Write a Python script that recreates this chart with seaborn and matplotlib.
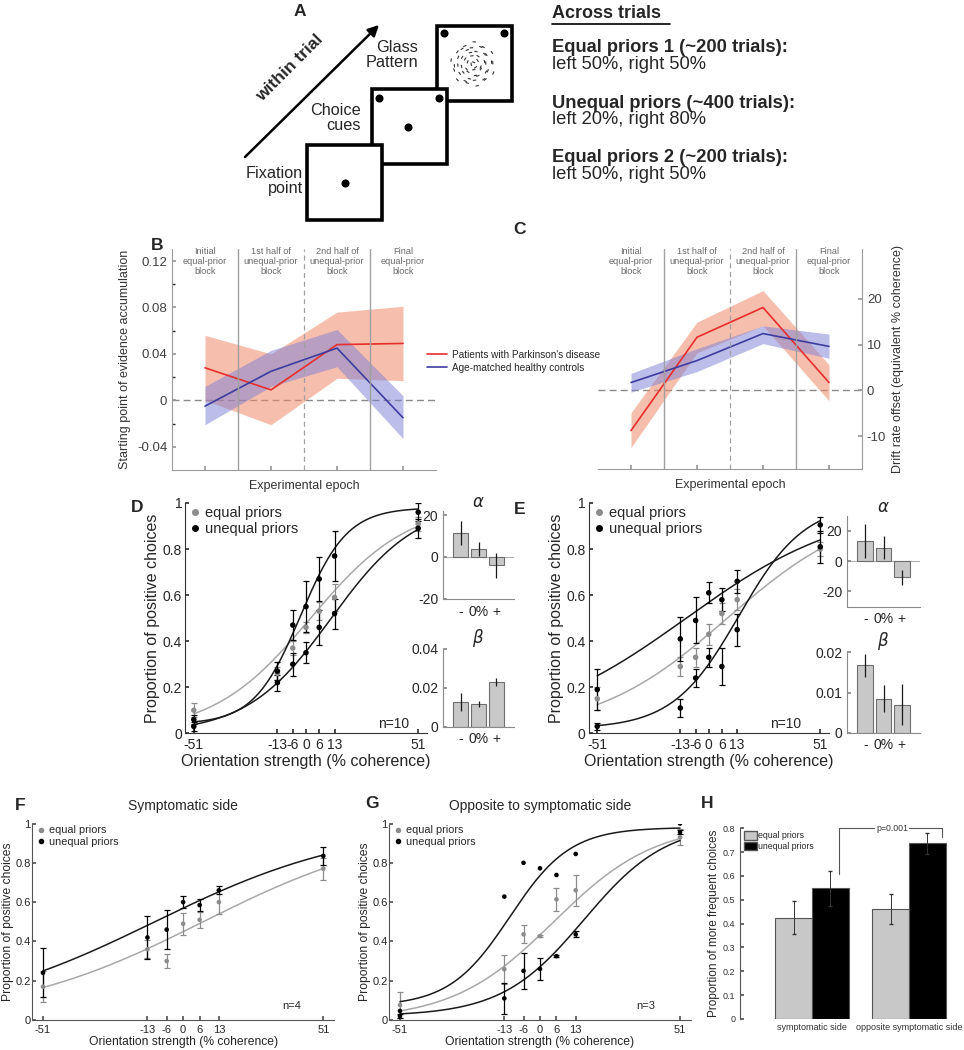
import numpy as np
import pandas as pd
import matplotlib
matplotlib.use('Agg')
import matplotlib.pyplot as plt
from matplotlib.lines import Line2D
from matplotlib.patches import Patch, Rectangle
import seaborn as sns

# ---------------- data ----------------
coherence = [-51, -13, -6, 0, 6, 13, 51]
coh_labels = ['-51', '-13', '-6', '0', '6', '13', '51']
epochs = [1, 3, 5, 7]
epoch_labels = ['Initial\nequal-prior\nblock', '1st half of\nunequal-prior\nblock',
                '2nd half of\nunequal-prior\nblock', 'Final\nequal-prior\nblock']
group_names = ['Patients with Parkinson\'s disease', 'Age-matched healthy controls']

# B: starting point of evidence accumulation
pd_start = [0.028, 0.009, 0.048, 0.049]
pd_start_lo = [0.0, -0.021, 0.019, 0.017]
pd_start_hi = [0.056, 0.040, 0.076, 0.081]
hc_start = [-0.005, 0.025, 0.045, -0.015]
hc_start_lo = [-0.021, 0.012, 0.029, -0.033]
hc_start_hi = [0.012, 0.043, 0.061, 0.004]

# C: drift rate offset
pd_drift = [-8.8, 11.6, 18.1, 1.7]
pd_drift_lo = [-12.5, 8.2, 14.1, -2.3]
pd_drift_hi = [-4.9, 14.9, 21.8, 5.6]
hc_drift = [1.7, 6.5, 12.4, 9.6]
hc_drift_lo = [-0.4, 4.1, 10.2, 7.0]
hc_drift_hi = [3.7, 9.1, 14.1, 12.3]

# D: proportion of positive choices (patients, n=10)
d_equal = [0.10, 0.26, 0.37, 0.46, 0.53, 0.59, 0.91]
d_equal_err = [0.03, 0.03, 0.03, 0.025, 0.04, 0.06, 0.03]
d_unequal_a = [0.06, 0.27, 0.47, 0.55, 0.67, 0.77, 0.96]
d_unequal_a_err = [0.02, 0.04, 0.065, 0.11, 0.095, 0.11, 0.04]
d_unequal_b = [0.03, 0.22, 0.30, 0.35, 0.46, 0.52, 0.89]
d_unequal_b_err = [0.02, 0.035, 0.05, 0.045, 0.075, 0.065, 0.04]
# logistic fits: (midpoint, spread, floor, lapse)
d_fit_equal = (2.1, 22.3, 0.0, 0.0)
d_fit_unequal_a = (-2.5, 10.6, 0.04, 0.02)
d_fit_unequal_b = (11.5, 19.3, 0.0, 0.0)

# E: proportion of positive choices (controls, n=10)
e_equal = [0.15, 0.29, 0.33, 0.43, 0.52, 0.58, 0.80]
e_equal_err = [0.05, 0.04, 0.04, 0.045, 0.045, 0.045, 0.03]
e_unequal_a = [0.19, 0.41, 0.49, 0.61, 0.58, 0.66, 0.81]
e_unequal_a_err = [0.09, 0.095, 0.10, 0.045, 0.05, 0.05, 0.07]
e_unequal_b = [0.03, 0.11, 0.24, 0.33, 0.29, 0.45, 0.905]
e_unequal_b_err = [0.015, 0.04, 0.04, 0.04, 0.08, 0.07, 0.035]
e_fit_equal = (8.5, 30.5, 0.0, 0.0)
e_fit_unequal_a = (-10.3, 37.0, 0.0, 0.0)
e_fit_unequal_b = (13.8, 15.1, 0.02, 0.0)

# insets: alpha and beta for -, 0%, + blocks
bar_labels = ['-', '0%', '+']
d_alpha = [11.5, 3.8, -4.0]
d_alpha_err = [5.6, 3.5, 6.0]
d_beta = [0.0127, 0.0115, 0.023]
d_beta_err = [0.0045, 0.0015, 0.002]
e_alpha = [13.1, 8.9, -10.7]
e_alpha_err = [11.1, 7.7, 5.0]
e_beta = [0.0168, 0.0085, 0.007]
e_beta_err = [0.0029, 0.0034, 0.005]

# F: symptomatic side (n=4)
f_equal = [0.17, 0.36, 0.30, 0.49, 0.51, 0.60, 0.77]
f_equal_err = [0.08, 0.045, 0.035, 0.055, 0.04, 0.06, 0.055]
f_unequal = [0.24, 0.42, 0.46, 0.60, 0.585, 0.66, 0.835]
f_unequal_err = [0.125, 0.11, 0.10, 0.03, 0.03, 0.02, 0.045]
f_fit_equal = (7.3, 36.0, 0.0, 0.0)
f_fit_unequal = (-10.3, 37.0, 0.0, 0.0)

# G: opposite to symptomatic side (n=3)
g_equal = [0.076, 0.258, 0.436, 0.427, 0.614, 0.66, 0.93]
g_equal_err = [0.065, 0.075, 0.045, 0.005, 0.06, 0.078, 0.04]
g_unequal_a = [0.046, 0.628, 0.80, 0.772, 0.738, 0.845, 1.0]
g_unequal_b = [0.02, 0.11, 0.25, 0.26, 0.325, 0.436, 0.955]
g_unequal_b_err = [0.01, 0.08, 0.09, 0.055, 0.006, 0.016, 0.01]
g_fit_equal = (5.0, 18.5, 0.0, 0.0)
g_fit_unequal_a = (-11.0, 11.0, 0.07, 0.02)
g_fit_unequal_b = (16.0, 15.0, 0.02, 0.0)

# H: proportion of more frequent choices
sides = ['symptomatic side', 'opposite symptomatic side']
h_equal = [0.425, 0.462]
h_equal_err = [0.07, 0.064]
h_unequal = [0.548, 0.737]
h_unequal_err = [0.072, 0.045]

# ---------------- style ----------------
sns.set_theme(style='ticks')
plt.rcParams['font.family'] = ['Liberation Sans', 'DejaVu Sans']
plt.rcParams.update({
    'xtick.direction': 'in', 'ytick.direction': 'in',
    'xtick.major.size': 3, 'ytick.major.size': 3,
    'xtick.minor.size': 2, 'ytick.minor.size': 2,
    'axes.linewidth': 0.8,
})

W, H = 964, 1050
RED, BLUE = '#e62e2e', '#3d3d9e'
PINK, LAV = '#f08a6a', '#7b7fd4'
GRAY, GRAY_LINE = '#8c8c8c', '#a8a8a8'
BAR, BAR_EDGE = '#c8c8c8', '#6e6e6e'


def rect(l, t, r, b):
    # pixel box -> figure fraction
    return [l / W, 1 - b / H, (r - l) / W, (b - t) / H]


def psy(x, x0, s, g, l):
    return g + (1 - g - l) / (1 + np.exp(-(x - x0) / s))


def style_axes(ax, spine_color, tick_color, fs):
    for side in ['top', 'right']:
        ax.spines[side].set_visible(False)
    for side in ['left', 'bottom']:
        ax.spines[side].set_color(spine_color)
    ax.tick_params(colors=spine_color, labelcolor=tick_color, labelsize=fs)


def psych_panel(ax, sets, fs_tick, fs_lab, dot, cap, spine='#333333', pad=2):
    xs = np.linspace(-51, 51, 300)
    for vals, errs, fit, col, lcol in sets:
        if fit is not None:
            sns.lineplot(x=xs, y=psy(xs, *fit), ax=ax, color=lcol, lw=1.1)
        if errs is not None:
            ax.errorbar(coherence, vals, yerr=errs, fmt='none', ecolor=col,
                        elinewidth=0.9, capsize=cap, capthick=0.9, zorder=2)
        sns.scatterplot(x=coherence, y=vals, ax=ax, color=col, s=dot,
                        edgecolor='none', zorder=3)
    ax.set_xlim(-55, 55)
    ax.set_ylim(0, 1)
    ax.set_xticks(coherence)
    ax.set_xticklabels(coh_labels)
    ax.set_yticks([0, 0.2, 0.4, 0.6, 0.8, 1])
    ax.set_yticklabels(['0', '0.2', '0.4', '0.6', '0.8', '1'])
    style_axes(ax, spine, '#262626', fs_tick)
    ax.tick_params(axis='y', pad=pad)
    ax.set_xlabel('Orientation strength (% coherence)', fontsize=fs_lab, color='#262626', labelpad=1)
    ax.set_ylabel('Proportion of positive choices', fontsize=fs_lab, color='#262626', labelpad=pad)


def dot_legend(ax, fs, anchor, ms):
    hs = [Line2D([], [], ls='', marker='o', color=GRAY, ms=ms),
          Line2D([], [], ls='', marker='o', color='black', ms=ms)]
    ax.legend(hs, ['equal priors', 'unequal priors'], loc='upper left', bbox_to_anchor=anchor,
              frameon=False, fontsize=fs, handlelength=0.4, handletextpad=0.5,
              labelspacing=0.1, borderaxespad=0, borderpad=0)


def inset_bars(ax, vals, errs, ylim, ticks, ticklabels, title):
    df = pd.DataFrame({'cond': bar_labels, 'val': vals})
    sns.barplot(data=df, x='cond', y='val', ax=ax, color=BAR, edgecolor=BAR_EDGE,
                linewidth=0.8, width=0.85, saturation=1, errorbar=None)
    ax.errorbar(range(3), vals, yerr=errs, fmt='none', ecolor='#1a1a1a', elinewidth=0.9, capsize=0)
    ax.axhline(0, color='#b0b0b0', lw=0.8, zorder=0)
    ax.set_xlim(-1, 3)
    ax.set_ylim(*ylim)
    ax.set_yticks(ticks)
    ax.set_yticklabels(ticklabels)
    ax.set_xlabel('')
    ax.set_ylabel('')
    style_axes(ax, '#8a8a8a', '#262626', 10)
    ax.tick_params(axis='x', length=0, pad=4)
    ax.set_title(title, fontsize=12, family='DejaVu Serif', style='italic', pad=2)


fig = plt.figure(figsize=(W / 100, H / 100), dpi=100)

# ---------------- A: task schematic (pixel coordinates) ----------------
axA = fig.add_axes([0, 1 - 240 / H, 1, 240 / H])
axA.set_xlim(0, W)
axA.set_ylim(240, 0)
axA.axis('off')
axA.text(300, 11, 'A', fontsize=12.5, fontweight='bold', ha='center', va='center')
for (bx, by), z in zip([(436.7, 26), (371.7, 89.3), (306.7, 145)], [1, 2, 3]):
    axA.add_patch(Rectangle((bx, by), 75, 75, facecolor='white', edgecolor='black', lw=2.6, zorder=z))
axA.plot([345], [182.7], 'o', color='black', ms=4.8, zorder=4)
axA.plot([407.7, 379, 439], [126.7, 98.3, 98.3], 'o', color='black', ms=4.8, zorder=3)
axA.plot([444, 504], [33.3, 33.3], 'o', color='black', ms=4.8, zorder=2)
# concentric Glass pattern dipoles (illustration)
for r, n in zip([3, 7, 10.5, 14, 17.5, 21], [3, 6, 8, 10, 12, 13]):
    th = np.linspace(0, 2 * np.pi, n, endpoint=False) + r * 1.7
    for k, t in enumerate(th):
        rr = r + (1.2 if k % 2 else -1.2)
        cx, cy = 473 + rr * np.cos(t), 64 + rr * np.sin(t)
        dx, dy = -1.3 * np.sin(t), 1.3 * np.cos(t)
        axA.plot([cx - dx, cx + dx], [cy - dy, cy + dy], color='#333333', lw=0.8, zorder=2)
axA.annotate('', xy=(381, 23), xytext=(243, 159),
             arrowprops=dict(arrowstyle='-|>', lw=1.8, color='black', mutation_scale=16))
axA.text(290, 68, 'within trial', rotation=45, fontsize=12.5, fontweight='bold',
         ha='center', va='center')
axA.text(418, 55, 'Glass\nPattern', fontsize=11.7, ha='right', va='center', linespacing=1.0)
axA.text(361, 118, 'Choice\ncues', fontsize=11.7, ha='right', va='center', linespacing=1.0)
axA.text(303, 181, 'Fixation\npoint', fontsize=11.7, ha='right', va='center', linespacing=1.0)
axA.text(552, 13, 'Across trials', fontsize=13, fontweight='bold', ha='left', va='center')
axA.plot([552, 670], [23.5, 23.5], color='black', lw=1.2)
across = [('Equal priors 1 (~200 trials):', 'left 50%, right 50%', 48),
          ('Unequal priors (~400 trials):', 'left 20%, right 80%', 103),
          ('Equal priors 2 (~200 trials):', 'left 50%, right 50%', 158)]
for head, body, yy in across:
    axA.text(552, yy, head, fontsize=13.2, fontweight='bold', ha='left', va='center')
    axA.text(552, yy + 16.5, body, fontsize=13.2, ha='left', va='center')

# ---------------- B / C ----------------
axB = fig.add_axes(rect(172, 249.4, 436, 470))
axB.fill_between(epochs, pd_start_lo, pd_start_hi, color=PINK, alpha=0.55, lw=0)
axB.fill_between(epochs, hc_start_lo, hc_start_hi, color=LAV, alpha=0.5, lw=0)
sns.lineplot(x=epochs, y=pd_start, ax=axB, color=RED, lw=1.2)
sns.lineplot(x=epochs, y=hc_start, ax=axB, color=BLUE, lw=1.2)
axB.set_ylim(-0.06, 0.13)
axB.set_yticks([-0.04, 0, 0.04, 0.08, 0.12])
axB.set_yticklabels(['-0.04', '0', '0.04', '0.08', '0.12'])
axB.set_yticks([-0.02, 0.02, 0.06, 0.10], minor=True)
axB.set_ylabel('Starting point of evidence accumulation', fontsize=9, color='#333333', labelpad=4)

axC = fig.add_axes(rect(598, 249.4, 862, 469))
axC.fill_between(epochs, pd_drift_lo, pd_drift_hi, color=PINK, alpha=0.55, lw=0)
axC.fill_between(epochs, hc_drift_lo, hc_drift_hi, color=LAV, alpha=0.5, lw=0)
sns.lineplot(x=epochs, y=pd_drift, ax=axC, color=RED, lw=1.2)
sns.lineplot(x=epochs, y=hc_drift, ax=axC, color=BLUE, lw=1.2)
axC.set_ylim(-17.2, 30.8)
axC.set_yticks([-10, 0, 10, 20])
axC.set_yticklabels(['-10', '0', '10', '20'])
axC.yaxis.tick_right()
axC.yaxis.set_label_position('right')
axC.set_ylabel('Drift rate offset (equivalent % coherence)', fontsize=9, color='#333333', labelpad=4)

for ax, side in [(axB, 'left'), (axC, 'right')]:
    for s in ['top', 'left', 'right']:
        ax.spines[s].set_visible(s == side)
    ax.spines[side].set_color('#9a9a9a')
    ax.spines['bottom'].set_color('#9a9a9a')
    ax.tick_params(colors='#9a9a9a', labelcolor='#404040', labelsize=9.5)
    ax.set_xlim(0, 8)
    ax.set_xticks(epochs)
    ax.set_xticklabels([])
    ax.set_xlabel('Experimental epoch', fontsize=9, color='#333333', labelpad=4)
    ax.axvline(2, color='#a0a0a0', lw=1)
    ax.axvline(4, color='#a0a0a0', lw=0.9, ls=(0, (4, 3)))
    ax.axvline(6, color='#a0a0a0', lw=1)
    ax.axhline(0, color='#8a8a8a', lw=1, ls=(0, (5, 3)), zorder=0)
    for ex, lab in zip(epochs, epoch_labels):
        ax.text(ex, 1.01, lab, transform=ax.get_xaxis_transform(), ha='center', va='top',
                fontsize=6.6, color='#6a6a6a', linespacing=1.15)

fig.legend([Line2D([], [], color=RED, lw=1.2), Line2D([], [], color=BLUE, lw=1.2)], group_names,
           loc='upper left', bbox_to_anchor=(427 / W, 1 - 350 / H), frameon=False, fontsize=7.2,
           handlelength=2.0, handletextpad=0.5, labelspacing=0.3, borderaxespad=0, borderpad=0)

# ---------------- D / E ----------------
axD = fig.add_axes(rect(185, 503, 427, 733.3))
psych_panel(axD, [(d_equal, d_equal_err, d_fit_equal, GRAY, GRAY_LINE),
                  (d_unequal_a, d_unequal_a_err, d_fit_unequal_a, 'black', '#1a1a1a'),
                  (d_unequal_b, d_unequal_b_err, d_fit_unequal_b, 'black', '#1a1a1a')],
            10, 11.5, 16, 2)
dot_legend(axD, 10.5, (0.028, 0.985), 4)
axD.text(0.86, 0.04, 'n=10', transform=axD.transAxes, fontsize=10, ha='center', va='center')

axE = fig.add_axes(rect(588.5, 503, 829, 733.3))
psych_panel(axE, [(e_equal, e_equal_err, e_fit_equal, GRAY, GRAY_LINE),
                  (e_unequal_a, e_unequal_a_err, e_fit_unequal_a, 'black', '#1a1a1a'),
                  (e_unequal_b, e_unequal_b_err, e_fit_unequal_b, 'black', '#1a1a1a')],
            10, 11.5, 16, 2)
dot_legend(axE, 10.5, (0.03, 0.985), 4)
axE.text(0.82, 0.04, 'n=10', transform=axE.transAxes, fontsize=10, ha='center', va='center')

inset_bars(fig.add_axes(rect(443, 510.8, 514, 599)), d_alpha, d_alpha_err, (-20, 22),
           [-20, 0, 20], ['-20', '0', '20'], r'$\alpha$')
inset_bars(fig.add_axes(rect(443, 648.7, 514, 726.7)), d_beta, d_beta_err, (0, 0.04),
           [0, 0.02, 0.04], ['0', '0.02', '0.04'], r'$\beta$')
inset_bars(fig.add_axes(rect(847, 515.6, 920, 606.5)), e_alpha, e_alpha_err, (-30, 30),
           [-20, 0, 20], ['-20', '0', '20'], r'$\alpha$')
inset_bars(fig.add_axes(rect(847, 652.3, 920, 732.7)), e_beta, e_beta_err, (0, 0.02),
           [0, 0.01, 0.02], ['0', '0.01', '0.02'], r'$\beta$')

# ---------------- F / G ----------------
axF = fig.add_axes(rect(32, 823.5, 334.3, 1020))
psych_panel(axF, [(f_equal, f_equal_err, f_fit_equal, GRAY, GRAY_LINE),
                  (f_unequal, f_unequal_err, f_fit_unequal, 'black', '#1a1a1a')],
            8, 8.7, 11, 2, spine='#555555', pad=1)
dot_legend(axF, 7.8, (0.024, 0.99), 3)
axF.set_title('Symptomatic side', fontsize=10, pad=10)
axF.text(0.86, 0.07, 'n=4', transform=axF.transAxes, fontsize=8, ha='center', va='center')

axG = fig.add_axes(rect(389, 823.5, 691, 1020))
psych_panel(axG, [(g_equal, g_equal_err, g_fit_equal, GRAY, GRAY_LINE),
                  (g_unequal_a, None, g_fit_unequal_a, 'black', '#1a1a1a'),
                  (g_unequal_b, g_unequal_b_err, g_fit_unequal_b, 'black', '#1a1a1a')],
            8, 8.7, 11, 2, spine='#555555', pad=1)
dot_legend(axG, 7.8, (0.023, 0.99), 3)
axG.set_title('Opposite to symptomatic side', fontsize=10, pad=10)
axG.text(0.85, 0.07, 'n=3', transform=axG.transAxes, fontsize=8, ha='center', va='center')

# ---------------- H ----------------
axH = fig.add_axes(rect(740, 828.3, 960, 1019))
dfH = pd.DataFrame({'side': sides * 2,
                    'prior': ['equal priors'] * 2 + ['unequal priors'] * 2,
                    'val': h_equal + h_unequal})
sns.barplot(data=dfH, x='side', y='val', hue='prior', palette=[BAR, 'black'], width=0.757,
            edgecolor='#555555', linewidth=0.8, saturation=1, errorbar=None, ax=axH)
for cont, errs in zip(axH.containers, [h_equal_err, h_unequal_err]):
    bx = [b.get_x() + b.get_width() / 2 for b in cont]
    by = [b.get_height() for b in cont]
    axH.errorbar(bx, by, yerr=errs, fmt='none', ecolor='#333333', elinewidth=0.7, capsize=1.2)
axH.set_xlim(-0.742, 1.526)
axH.set_ylim(0, 0.8)
axH.set_yticks(np.arange(0, 0.81, 0.1))
axH.set_yticklabels(['0', '0.1', '0.2', '0.3', '0.4', '0.5', '0.6', '0.7', '0.8'])
style_axes(axH, '#555555', '#333333', 6.5)
axH.spines['bottom'].set_visible(False)
axH.tick_params(axis='x', length=0, pad=3)
axH.set_xlabel('')
axH.set_ylabel('Proportion of more frequent choices', fontsize=8.5, color='#262626', labelpad=2)
axH.legend([Patch(facecolor=BAR, edgecolor='#555555'), Patch(facecolor='black', edgecolor='#555555')],
           ['equal priors', 'unequal priors'], loc='upper left', bbox_to_anchor=(0.02, 0.985),
           frameon=False, fontsize=6.3, handlelength=1.4, handleheight=1.1, handletextpad=0.1,
           labelspacing=0.15, borderaxespad=0, borderpad=0)
axH.plot([0.278, 0.278, 1.337, 1.337], [0.61, 0.8, 0.8, 0.765], color='#555555', lw=0.8, clip_on=False)
axH.text(0.825, 0.8, 'p=0.001', fontsize=6.3, ha='center', va='center', color='#333333',
         bbox=dict(facecolor='white', edgecolor='none', pad=0.6))

# ---------------- panel letters ----------------
for lab, px, py in [('B', 157, 245), ('C', 520, 230), ('D', 137, 508), ('E', 520, 510),
                    ('F', 20, 805), ('G', 372, 803), ('H', 707, 803)]:
    fig.text(px / W, 1 - py / H, lab, fontsize=12.5, fontweight='bold', ha='center', va='center')

fig.savefig('out.png', dpi=100)
